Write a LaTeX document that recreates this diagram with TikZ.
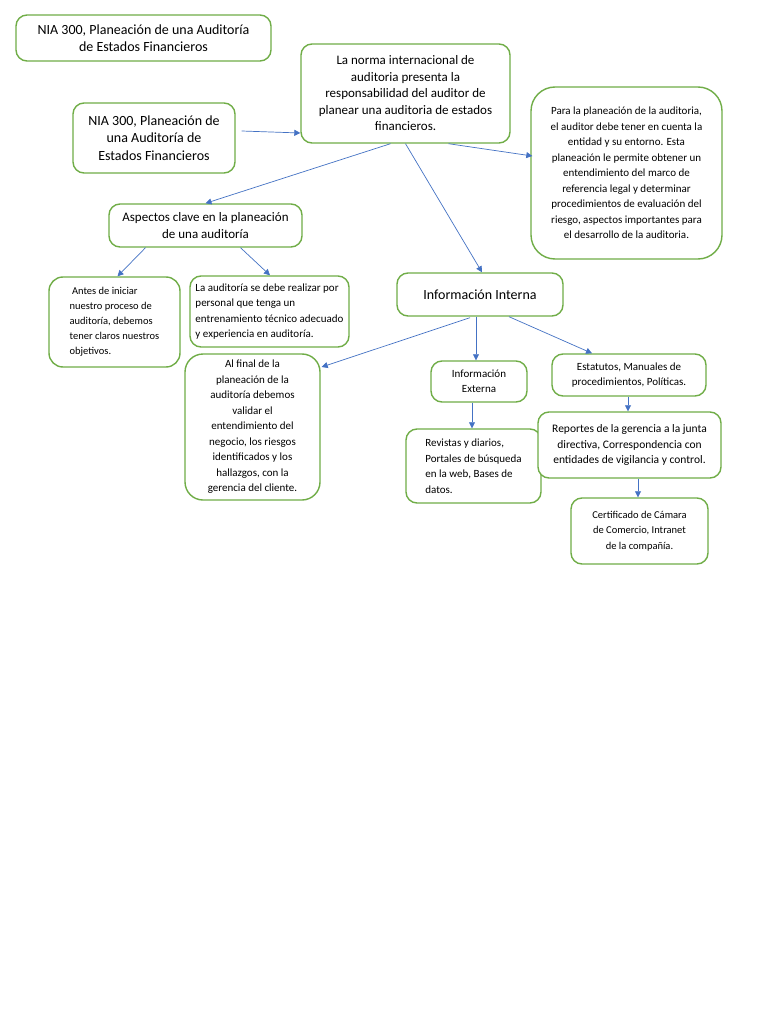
\documentclass[tikz,border=0pt]{standalone}
\usepackage{fontspec}
\setmainfont{Carlito}
\usetikzlibrary{arrows.meta}
\definecolor{boxgreen}{RGB}{112,173,71}
\definecolor{arrblue}{RGB}{68,114,196}

\begin{document}
\begin{tikzpicture}[x=1pt,y=-1pt,
    box/.style={draw=boxgreen,line width=1.4pt,rounded corners=11pt,fill=white,align=center,inner sep=3pt,
      font=\fontsize{11}{15.5}\selectfont},
    big/.style={font=\fontsize{14}{17.5}\selectfont},
    mid/.style={font=\fontsize{13}{16.5}\selectfont},
    arr/.style={-{Triangle[length=6pt,width=6pt]},draw=arrblue,line width=0.7pt}]
    \useasboundingbox[fill=white] (0,0) rectangle (768,1024);
    % upper part
    \node[box,big,minimum width=255pt,minimum height=46pt] (titulo) at (143.5,38) {NIA 300, Planeación de una Auditoría\\de Estados Financieros};
    \node[box,big,minimum width=162pt,minimum height=70pt] (nia) at (154,138) {NIA 300, Planeación de\\una Auditoría de\\Estados Financieros};
    \node[box,mid,minimum width=209pt,minimum height=99pt] (norma) at (405.5,93.5) {La norma internacional de\\auditoria presenta la\\responsabilidad del auditor de\\planear una auditoria de estados\\financieros.};
    \node[box,rounded corners=24pt,minimum width=191pt,minimum height=172pt] (para) at (626.5,173) {Para la planeación de la auditoria,\\el auditor debe tener en cuenta la\\entidad y su entorno. Esta\\planeación le permite obtener un\\entendimiento del marco de\\referencia legal y determinar\\procedimientos de evaluación del\\riesgo, aspectos importantes para\\el desarrollo de la auditoria.};
    \node[box,mid,minimum width=193pt,minimum height=43pt] (aspectos) at (205.5,225.5) {Aspectos clave en la planeación\\de una auditoría};
    % left branch
    \node[box,align=left,font=\fontsize{10.5}{15}\selectfont,rounded corners=14pt,minimum width=131pt,minimum height=90pt] (antes) at (114.5,322) {\ Antes de iniciar\\nuestro proceso de\\auditoría, debemos\\tener claros nuestros\\objetivos.};
    \node[box,align=left,minimum width=159pt,minimum height=71pt] (personal) at (269.5,311.5) {La auditoría se debe realizar por\\personal que tenga un\\entrenamiento técnico adecuado\\y experiencia en auditoría.};
    \node[box,rounded corners=18pt,minimum width=135pt,minimum height=146pt] (alfinal) at (252.5,427) {Al final de la\\planeación de la\\auditoría debemos\\validar el\\entendimiento del\\negocio, los riesgos\\identificados y los\\hallazgos, con la\\gerencia del cliente.};
    % right branch
    \node[box,big,minimum width=166pt,minimum height=43pt] (interna) at (480,294.5) {Información Interna};
    \node[box,font=\fontsize{11}{15}\selectfont,minimum width=96pt,minimum height=41pt] (externa) at (479,381.5) {Información\\Externa};
    \node[box,minimum width=154pt,minimum height=42pt] (estatutos) at (629,375) {Estatutos, Manuales de\\procedimientos, Políticas.};
    \node[box,align=left,minimum width=135pt,minimum height=74pt] (revistas) at (473.5,466) {Revistas y diarios,\\Portales de búsqueda\\en la web, Bases de\\datos.};
    \node[box,font=\fontsize{11.5}{15.5}\selectfont,minimum width=183pt,minimum height=66pt] (reportes) at (629.5,445) {Reportes de la gerencia a la junta\\directiva, Correspondencia con\\entidades de vigilancia y control.};
    \node[box,font=\fontsize{10.5}{15.5}\selectfont,minimum width=137pt,minimum height=66pt] (certificado) at (639.5,531) {Certificado de Cámara\\de Comercio, Intranet\\de la compañía.};
    % connectors
    \draw[arr] ([xshift=6pt,yshift=7pt]nia.east) -- ([yshift=-39.5pt]norma.west);
    \draw[arr] ([xshift=-15pt]norma.south) -- (aspectos.north);
    \draw[arr] ([xshift=43pt]norma.south) -- ([xshift=2pt,yshift=17pt]para.west);
    \draw[arr] (norma.south) -- ([xshift=2pt]interna.north);
    \draw[arr] ([xshift=-60pt]aspectos.south) -- ([xshift=3pt]antes.north);
    \draw[arr] ([xshift=35pt]aspectos.south) -- ([xshift=0.5pt]personal.north);
    \draw[arr] ([xshift=-10pt,yshift=-1pt]interna.south) -- ([xshift=1pt,yshift=60pt]alfinal.east);
    \draw[arr] ([xshift=-4pt]interna.south) -- ([xshift=-3pt]externa.north);
    \draw[arr] ([xshift=29pt]interna.south) -- ([xshift=-37pt]estatutos.north);
    \draw[arr] ([xshift=-7pt]externa.south) -- ([xshift=-1.5pt]revistas.north);
    \draw[arr] ([xshift=-1pt]estatutos.south) -- ([xshift=-1.5pt]reportes.north);
    \draw[arr] ([xshift=8.5pt]reportes.south) -- ([xshift=-1.5pt]certificado.north);
\end{tikzpicture}
\end{document}
